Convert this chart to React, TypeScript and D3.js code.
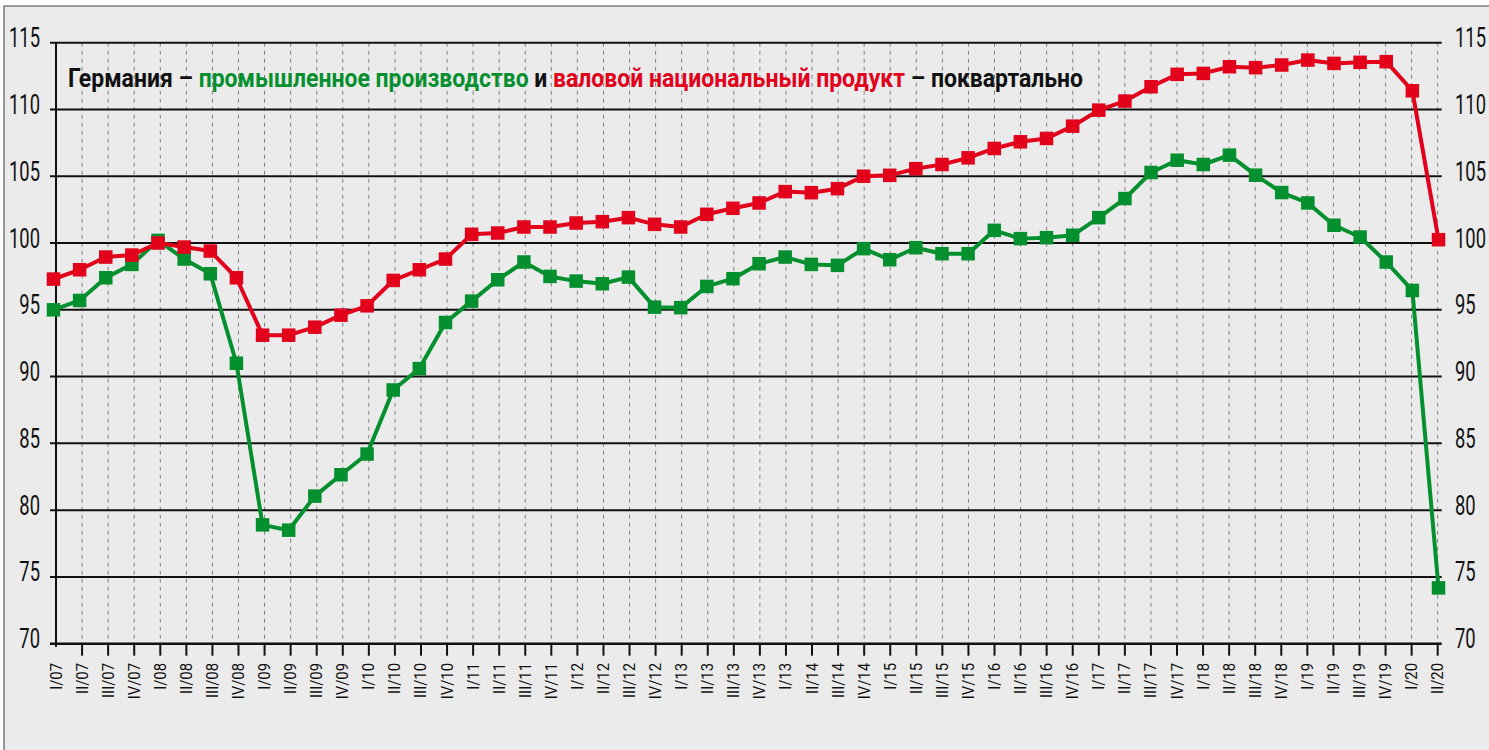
import React, { useLayoutEffect, useRef, useState } from "react";
import * as d3 from "d3";

const quarters = [
  "I/07", "II/07", "III/07", "IV/07",
  "I/08", "II/08", "III/08", "IV/08",
  "I/09", "II/09", "III/09", "IV/09",
  "I/10", "II/10", "III/10", "IV/10",
  "I/11", "II/11", "III/11", "IV/11",
  "I/12", "II/12", "III/12", "IV/12",
  "I/13", "II/13", "III/13", "IV/13",
  "I/13", "II/14", "III/14", "IV/14",
  "I/15", "II/15", "III/15", "IV/15",
  "I/16", "II/16", "III/16", "IV/16",
  "I/17", "II/17", "III/17", "IV/17",
  "I/18", "II/18", "III/18", "IV/18",
  "I/19", "II/19", "III/19", "IV/19",
  "I/20", "II/20",
];

const industrialProduction = [
  95.0, 95.7, 97.4, 98.4,
  100.2, 98.8, 97.7, 91.0,
  78.9, 78.5, 81.05, 82.65,
  84.2, 89.0, 90.6, 94.05,
  95.65, 97.25, 98.58, 97.5,
  97.15, 96.95, 97.45, 95.2,
  95.16, 96.75, 97.33, 98.45,
  98.95, 98.4, 98.33, 99.58,
  98.75, 99.65, 99.2, 99.2,
  100.95, 100.33, 100.4, 100.58,
  101.9, 103.33, 105.28, 106.2,
  105.88, 106.58, 105.08, 103.78,
  103.0, 101.33, 100.45, 98.58,
  96.45, 74.18,
];

const gdp = [
  97.3, 98.0, 98.95, 99.1,
  100.0, 99.7, 99.4, 97.4,
  93.1, 93.1, 93.7, 94.6,
  95.3, 97.2, 98.0, 98.8,
  100.65, 100.75, 101.2, 101.2,
  101.5, 101.6, 101.9, 101.4,
  101.2, 102.15, 102.6, 103.0,
  103.85, 103.77, 104.07, 105.0,
  105.07, 105.57, 105.88, 106.38,
  107.08, 107.58, 107.83, 108.75,
  109.95, 110.63, 111.7, 112.63,
  112.7, 113.2, 113.13, 113.33,
  113.7, 113.45, 113.53, 113.58,
  111.4, 100.25,
];

const yTicks = [70, 75, 80, 85, 90, 95, 100, 105, 110, 115];

const GREEN = "#05902f";
const RED = "#e2001b";
const FONT = "Roboto, 'Noto Sans', sans-serif";

export default function App() {
  const titleRef = useRef<SVGTextElement>(null);
  const [titleScale, setTitleScale] = useState(0.86);

  useLayoutEffect(() => {
    if (titleRef.current) {
      const w = titleRef.current.getComputedTextLength();
      if (w > 0) setTitleScale(1015 / w);
    }
  }, []);

  const idx = quarters.map((_, i) => i);
  const xData = d3.scalePoint<number>().domain(idx).range([53.5, 1438.5]);
  const xTick = d3.scalePoint<number>().domain(idx).range([56, 1437.7]);
  const y = d3.scaleLinear().domain([70, 115]).range([643.7, 42.7]);

  const line = d3
    .line<number>()
    .x((_, i) => xData(i) as number)
    .y((d) => y(d));

  const series = [
    { values: industrialProduction, color: GREEN },
    { values: gdp, color: RED },
  ];
  const ms = 13.5;

  return (
    <svg
      width={1489}
      height={750}
      style={{ position: "absolute", left: 0, top: 0, display: "block" }}
    >
      <rect x={0} y={0} width={1489} height={750} fill="#ffffff" />
      <rect
        x={4}
        y={6}
        width={1600}
        height={900}
        fill="#ebebeb"
        stroke="#7a7a7a"
        strokeWidth={1.5}
      />

      {/* dashed vertical grid */}
      {idx.slice(1).map((i) => (
        <line
          key={"v" + i}
          x1={xTick(i)}
          x2={xTick(i)}
          y1={y(115)}
          y2={y(70)}
          stroke="#808080"
          strokeWidth={1}
          strokeDasharray="4,4"
        />
      ))}

      {/* horizontal grid */}
      {yTicks.map((t) => (
        <line
          key={"h" + t}
          x1={50}
          x2={1441.7}
          y1={y(t)}
          y2={y(t)}
          stroke="#111"
          strokeWidth={t === 70 ? 2.5 : 2}
        />
      ))}

      {/* left axis */}
      <line x1={56} x2={56} y1={y(115)} y2={y(70) + 3} stroke="#111" strokeWidth={2} />

      {/* x ticks */}
      {idx.map((i) => (
        <line
          key={"t" + i}
          x1={xTick(i)}
          x2={xTick(i)}
          y1={y(70)}
          y2={y(70) + (i === 0 ? 3 : 12)}
          stroke="#111"
          strokeWidth={2}
        />
      ))}

      {/* y labels left & right */}
      {yTicks.map((t) => (
        <g key={"yl" + t}>
          <text
            transform={`translate(40,${y(t) + 4.5}) scale(0.68,1)`}
            textAnchor="end"
            fontFamily={FONT}
            fontSize={27}
            fill="#111"
          >
            {t}
          </text>
          <text
            transform={`translate(1455,${y(t) + 4.5}) scale(0.68,1)`}
            textAnchor="start"
            fontFamily={FONT}
            fontSize={27}
            fill="#111"
          >
            {t}
          </text>
        </g>
      ))}

      {/* x labels */}
      {idx.map((i) => (
        <text
          key={"xl" + i}
          transform={`translate(${(xTick(i) as number) + 5.5},663) rotate(-90) scale(0.9,1)`}
          textAnchor="end"
          fontFamily={FONT}
          fontSize={16.5}
          fill="#111"
        >
          {quarters[i]}
        </text>
      ))}

      {/* series */}
      {series.map((s, si) => (
        <g key={"s" + si}>
          <path d={line(s.values) || ""} fill="none" stroke={s.color} strokeWidth={4} strokeLinejoin="round" />
          {s.values.map((v, i) => (
            <rect
              key={i}
              x={(xData(i) as number) - ms / 2}
              y={y(v) - ms / 2}
              width={ms}
              height={ms}
              fill={s.color}
            />
          ))}
        </g>
      ))}

      {/* title */}
      <text
        ref={titleRef}
        transform={`translate(68,87) scale(${titleScale},1)`}
        fontFamily={FONT}
        fontWeight="bold"
        fontSize={25}
        fill="#111"
      >
        <tspan fill="#111">Германия – </tspan>
        <tspan fill={GREEN}>промышленное производство</tspan>
        <tspan fill="#111"> и </tspan>
        <tspan fill={RED}>валовой национальный продукт</tspan>
        <tspan fill="#111"> – поквартально</tspan>
      </text>
    </svg>
  );
}
